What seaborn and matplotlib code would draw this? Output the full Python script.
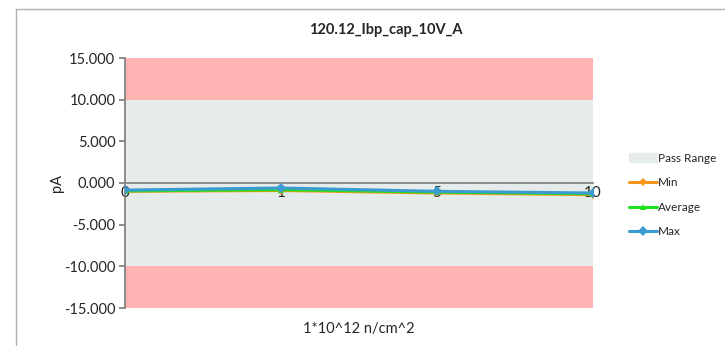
import matplotlib
matplotlib.use("Agg")
import matplotlib.pyplot as plt
import seaborn as sns
import pandas as pd
from matplotlib.lines import Line2D
from matplotlib.patches import Patch

# data
doses = ["0", "1", "5", "10"]
min_vals = [-1.0, -0.9, -1.2, -1.4]
avg_vals = [-0.95, -0.8, -1.1, -1.3]
max_vals = [-0.85, -0.6, -1.0, -1.2]
pass_low, pass_high = -10, 10

sns.set_theme(style="white")
plt.rcParams["font.family"] = ["Lato", "DejaVu Sans"]

rows = []
for name, vals in [("Min", min_vals), ("Average", avg_vals), ("Max", max_vals)]:
    for i, v in enumerate(vals):
        rows.append({"pos": i, "value": v, "series": name})
df = pd.DataFrame(rows)

fig = plt.figure(figsize=(7.25, 3.46), dpi=100)
ax = fig.add_axes([125 / 725, 1 - 308 / 346, 468 / 725, 250 / 346])

# bands
ax.axhspan(-15, pass_low, color="#ffb3b3", lw=0, zorder=0)
ax.axhspan(pass_high, 15, color="#ffb3b3", lw=0, zorder=0)
ax.axhspan(pass_low, pass_high, color="#e6ebeb", lw=0, zorder=0)

colors = {"Min": "#f7941d", "Average": "#1fe01f", "Max": "#3a9bd1"}
markers = {"Min": "D", "Average": "^", "Max": "D"}
sizes = {"Min": 4, "Average": 5, "Max": 5}
for name in ["Min", "Average", "Max"]:
    sns.lineplot(data=df[df.series == name], x="pos", y="value", ax=ax,
                 color=colors[name], marker=markers[name], markersize=sizes[name],
                 markeredgewidth=0, linewidth=2.2, zorder=3, legend=False)

ax.set_xlim(0, 3)
ax.set_ylim(-15, 15)
ticks = [-15, -10, -5, 0, 5, 10, 15]
ax.set_yticks(ticks)
ax.set_yticklabels([f"{v:.3f}" for v in ticks], fontsize=10.5)
ax.set_xticks(range(len(doses)))
ax.set_xticklabels(doses, fontsize=9)
ax.set_xlabel("")
ax.set_ylabel("pA", fontsize=10.5)
ax.yaxis.set_label_coords(-0.13, 0.5)

for s in ["top", "right"]:
    ax.spines[s].set_visible(False)
ax.spines["bottom"].set_position(("data", 0))
ax.spines["bottom"].set_color("#808080")
ax.spines["left"].set_color("#808080")
ax.spines["bottom"].set_zorder(2)
ax.tick_params(axis="x", direction="inout", length=6, color="#808080", pad=-1)
ax.tick_params(axis="y", direction="out", length=4, color="#808080", left=True, pad=3)

ax.text(0.5, -0.055, "1*10^12 n/cm^2", transform=ax.transAxes,
        ha="center", va="top", fontsize=10.5)
fig.text(386 / 725, 1 - 30 / 346, "120.12_Ibp_cap_10V_A", ha="center", va="center",
         fontsize=10.5, fontweight="bold")

handles = [Patch(color="#e6ebeb", label="Pass Range")]
for name in ["Min", "Average", "Max"]:
    handles.append(Line2D([0], [0], color=colors[name], marker=markers[name],
                          markersize=sizes[name], markeredgewidth=0, lw=2.2, label=name))
fig.legend(handles=handles, loc="center left", bbox_to_anchor=(618 / 725, 1 - 195 / 346),
           frameon=False, fontsize=8.5, handlelength=2.4, handletextpad=0.1,
           labelspacing=1.15)

# chart border
fig.add_artist(Line2D([16 / 725, 16 / 725], [0, 1 - 9 / 346], color="#b0b0b0", lw=1,
                      transform=fig.transFigure))
fig.add_artist(Line2D([16 / 725, 1], [1 - 9 / 346, 1 - 9 / 346], color="#b0b0b0", lw=1,
                      transform=fig.transFigure))

fig.savefig("out.png", dpi=100)
